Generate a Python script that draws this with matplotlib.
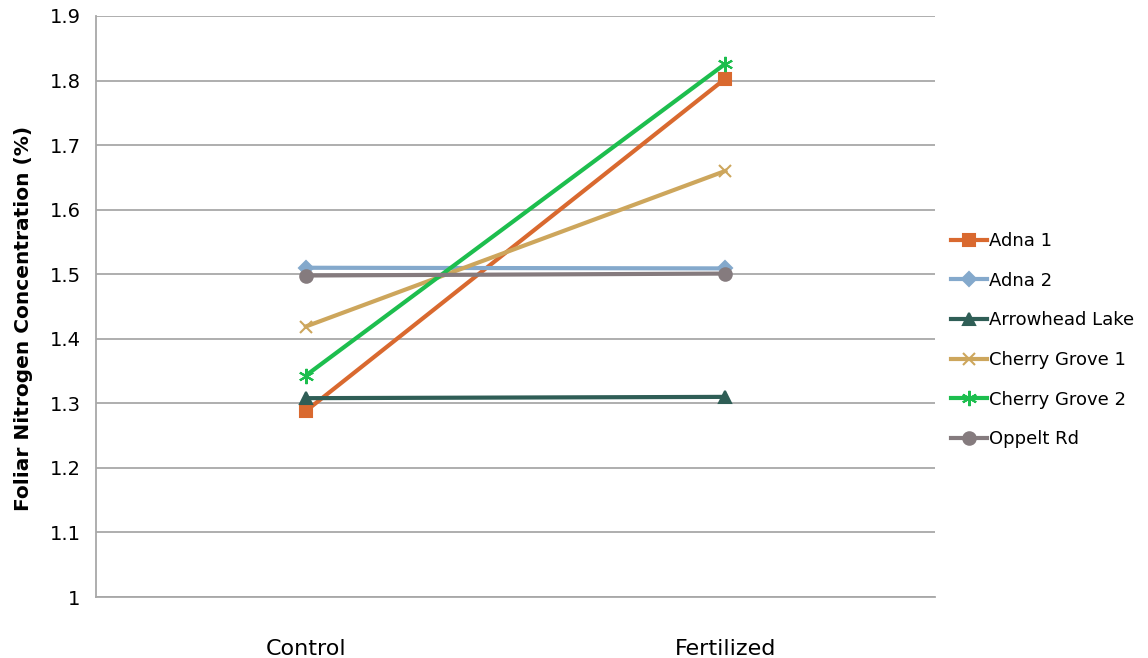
import matplotlib.pyplot as plt

# Foliar nitrogen by site and treatment
treatments = ["Control", "Fertilized"]
sites = ["Adna 1", "Adna 2", "Arrowhead Lake", "Cherry Grove 1", "Cherry Grove 2", "Oppelt Rd"]
adna1 = [1.288, 1.803]
adna2 = [1.510, 1.509]
arrowhead = [1.308, 1.310]
cherry1 = [1.419, 1.660]
cherry2 = [1.343, 1.826]
oppelt = [1.498, 1.501]

values = [adna1, adna2, arrowhead, cherry1, cherry2, oppelt]
colors = ["#D9692F", "#84A9CC", "#2F5E56", "#CDA65C", "#1DBE4E", "#857B7E"]
markers = ["s", "D", "^", "x", (6, 2, 0), "o"]
msizes = [9, 7, 9, 9, 11, 9]

plt.rcParams['font.family'] = ['DejaVu Sans']

fig = plt.figure(figsize=(11.48, 6.58), dpi=100)
ax = fig.add_axes([0.0836, 0.0927, 0.731, 0.883])

x = [0, 1]
for name, vals, c, m, ms in zip(sites, values, colors, markers, msizes):
    ax.plot(x, vals, color=c, lw=3, marker=m, markersize=ms,
            markeredgewidth=1.5, label=name)

ax.set_xlim(-0.5, 1.5)
ax.set_ylim(1.0, 1.9)
ax.set_yticks([1.0, 1.1, 1.2, 1.3, 1.4, 1.5, 1.6, 1.7, 1.8, 1.9])
ax.set_yticklabels(["1", "1.1", "1.2", "1.3", "1.4", "1.5", "1.6", "1.7", "1.8", "1.9"])
ax.set_xticks(x)
ax.set_xticklabels(treatments, fontsize=16)
ax.tick_params(axis='y', labelsize=14, length=0, pad=11)
ax.tick_params(axis='x', length=0, pad=30)
ax.grid(axis='y', color='#A8A8A8', lw=1.3)
ax.set_axisbelow(True)
for s in ["top", "right"]:
    ax.spines[s].set_visible(False)
for s in ["left", "bottom"]:
    ax.spines[s].set_color('#A8A8A8')
    ax.spines[s].set_linewidth(1.3)

ax.set_ylabel("Foliar Nitrogen Concentration (%)", fontsize=14.5, fontweight='bold')
ax.yaxis.set_label_coords(-0.075, 0.48)

ax.legend(loc='center left', bbox_to_anchor=(1.01, 0.442), frameon=False,
          fontsize=13, handlelength=2.0, handletextpad=0.1, labelspacing=1.2,
          borderaxespad=0)

fig.savefig("out.png", dpi=100)
